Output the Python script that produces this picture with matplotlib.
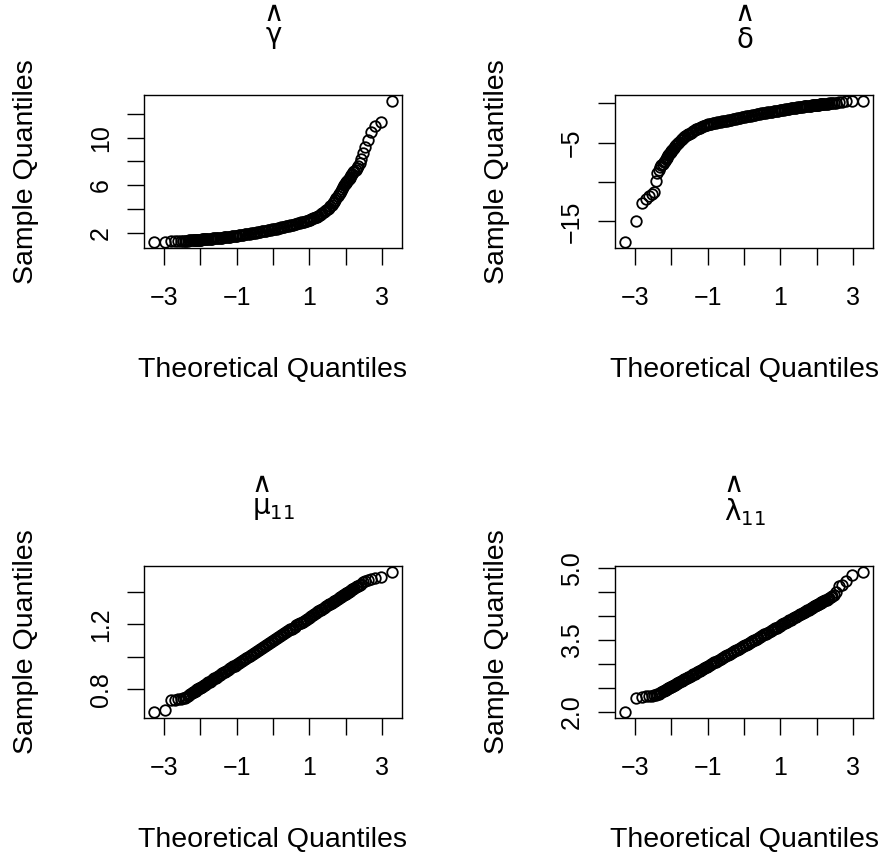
import matplotlib
matplotlib.use('Agg')
import matplotlib.pyplot as plt
from statistics import NormalDist

# ---------------- data ----------------
N_SAMPLE = 1000  # sample size behind each QQ plot (ranks refer to it)
ranks = [1, 2, 3, 4, 5, 6, 7, 8, 9, 10, 11, 12, 13, 14, 15, 16, 17, 18, 19, 20,
         21, 22, 23, 24, 25, 27, 29, 31, 33, 35, 38, 41, 44, 47, 50, 54, 58, 62,
         66, 71, 76, 81, 87, 93, 99, 106, 113, 120, 128, 136, 145, 154, 164, 174,
         185, 196, 208, 220, 233, 246, 260, 274, 288, 303, 318, 333, 348, 364, 380,
         396, 412, 428, 444, 460, 476, 492,
         509, 525, 541, 557, 573, 589, 605, 621, 637, 653, 668, 683, 698, 713, 727,
         741, 755, 768, 781, 793, 805, 816, 827, 837, 847, 856, 865, 873, 881, 888,
         895, 902, 908, 914, 920, 925, 930, 935, 939, 943, 947, 951, 954, 957, 960,
         963, 966, 968, 970, 972, 974, 976, 977, 978, 979, 980, 981, 982, 983, 984,
         985, 986, 987, 988, 989, 990, 991, 992, 993, 994, 995, 996, 997, 998, 999,
         1000]

gamma_hat = [1.22, 1.28, 1.30, 1.31, 1.32, 1.33, 1.34, 1.35, 1.36, 1.37, 1.375, 1.38,
             1.39, 1.395, 1.40, 1.41, 1.415, 1.42, 1.43, 1.435, 1.44, 1.445, 1.45,
             1.455, 1.46, 1.47, 1.475, 1.485, 1.49, 1.50, 1.51, 1.52, 1.53, 1.54,
             1.55, 1.56, 1.57, 1.58, 1.59, 1.60, 1.61, 1.625, 1.64, 1.65, 1.665,
             1.68, 1.69, 1.705, 1.72, 1.74, 1.755, 1.77, 1.79, 1.805, 1.825, 1.845,
             1.865, 1.885, 1.905, 1.925, 1.95, 1.97, 1.99, 2.01, 2.035, 2.06, 2.08,
             2.105, 2.13, 2.155, 2.18, 2.205, 2.23, 2.255, 2.28, 2.30,
             2.325, 2.35, 2.38, 2.41, 2.44, 2.47, 2.50, 2.53, 2.555, 2.585, 2.615,
             2.645, 2.675, 2.71, 2.745, 2.78, 2.82, 2.855, 2.89, 2.925, 2.96, 3.00,
             3.03, 3.065, 3.11, 3.165, 3.22, 3.275, 3.33, 3.385, 3.455, 3.53, 3.60,
             3.68, 3.755, 3.85, 3.95, 4.05, 4.14, 4.235, 4.35, 4.51, 4.64, 4.78,
             4.92, 5.07, 5.25, 5.38, 5.52, 5.67, 5.83, 6.00, 6.08, 6.17, 6.26, 6.35,
             6.44, 6.54, 6.64, 6.74, 6.86, 6.97, 7.08, 7.18, 7.30, 7.42, 7.58, 7.85,
             8.20, 8.70, 9.20, 9.80, 10.5, 11.0, 11.3, 13.1]

delta_hat = [-17.65, -14.9, -12.6, -12.2, -11.8, -11.5, -11.2, -9.8, -8.9, -8.4,
             -8.12, -7.88, -7.66, -7.46, -7.27, -7.09, -6.92, -6.75, -6.6, -6.45,
             -6.3, -6.17, -6.04, -5.93, -5.83, -5.64, -5.47, -5.31, -5.18, -5.04,
             -4.86, -4.70, -4.55, -4.41, -4.29, -4.14, -4.01, -3.92, -3.83, -3.72,
             -3.60, -3.49, -3.39, -3.31, -3.23, -3.15, -3.07, -3.00, -2.93, -2.86,
             -2.80, -2.73, -2.67, -2.62, -2.57, -2.53, -2.49, -2.45, -2.41, -2.37,
             -2.33, -2.29, -2.26, -2.22, -2.18, -2.14, -2.10, -2.06, -2.02, -1.98,
             -1.94, -1.90, -1.86, -1.82, -1.78, -1.74,
             -1.70, -1.66, -1.62, -1.585, -1.545, -1.51, -1.47, -1.43, -1.39, -1.35,
             -1.315, -1.28, -1.245, -1.21, -1.18, -1.145, -1.11, -1.075, -1.04,
             -1.01, -0.98, -0.945, -0.915, -0.885, -0.855, -0.825, -0.795, -0.765,
             -0.735, -0.70, -0.67, -0.64, -0.61, -0.58, -0.55, -0.525, -0.50,
             -0.475, -0.455, -0.43, -0.405, -0.38, -0.365, -0.345, -0.325, -0.305,
             -0.28, -0.265, -0.25, -0.235, -0.215, -0.195, -0.185, -0.175, -0.165,
             -0.155, -0.14, -0.13, -0.12, -0.105, -0.09, -0.08, -0.065, -0.05, -0.03,
             -0.015, 0.005, 0.025, 0.045, 0.07, 0.10, 0.135, 0.18, 0.25, 0.32, 0.35]

mu11_hat = [0.656, 0.673, 0.730, 0.733, 0.736, 0.739, 0.742, 0.747, 0.754, 0.760,
            0.765, 0.770, 0.775, 0.779, 0.783, 0.787, 0.791, 0.794, 0.798, 0.801,
            0.804, 0.807, 0.809, 0.812, 0.815, 0.819, 0.824, 0.828, 0.832, 0.836,
            0.842, 0.847, 0.852, 0.857, 0.861, 0.866, 0.871, 0.876, 0.881, 0.887,
            0.892, 0.897, 0.903, 0.908, 0.913, 0.919, 0.924, 0.929, 0.935, 0.940,
            0.946, 0.952, 0.958, 0.964, 0.970, 0.976, 0.982, 0.988, 0.994, 1.000,
            1.006, 1.013, 1.019, 1.025, 1.031, 1.037, 1.043, 1.049, 1.055, 1.062,
            1.068, 1.073, 1.079, 1.085, 1.091, 1.097,
            1.103, 1.109, 1.115, 1.121, 1.127, 1.132, 1.138, 1.145, 1.151, 1.157,
            1.163, 1.169, 1.175, 1.181, 1.187, 1.194, 1.200, 1.206, 1.212, 1.218,
            1.224, 1.230, 1.236, 1.242, 1.248, 1.254, 1.260, 1.265, 1.271, 1.276,
            1.281, 1.287, 1.292, 1.297, 1.303, 1.308, 1.313, 1.319, 1.324, 1.329,
            1.334, 1.339, 1.343, 1.348, 1.353, 1.358, 1.364, 1.368, 1.372, 1.376,
            1.381, 1.385, 1.388, 1.391, 1.393, 1.396, 1.399, 1.402, 1.406, 1.409,
            1.413, 1.417, 1.421, 1.425, 1.430, 1.435, 1.440, 1.446, 1.452, 1.460,
            1.468, 1.476, 1.482, 1.488, 1.492, 1.527]

lambda11_hat = [1.99, 2.30, 2.32, 2.33, 2.335, 2.34, 2.345, 2.35, 2.365, 2.38,
                2.399, 2.414, 2.428, 2.440, 2.452, 2.463, 2.474, 2.484, 2.493, 2.503,
                2.512, 2.520, 2.528, 2.536, 2.543, 2.558, 2.571, 2.584, 2.595, 2.607,
                2.623, 2.638, 2.653, 2.666, 2.679, 2.695, 2.710, 2.725, 2.738, 2.754,
                2.770, 2.784, 2.801, 2.816, 2.832, 2.848, 2.864, 2.879, 2.896, 2.912,
                2.930, 2.946, 2.964, 2.981, 2.998, 3.015, 3.034, 3.051, 3.069, 3.088,
                3.106, 3.124, 3.142, 3.160, 3.179, 3.196, 3.213, 3.232, 3.250, 3.267,
                3.285, 3.302, 3.320, 3.337, 3.354, 3.371,
                3.389, 3.406, 3.423, 3.440, 3.458, 3.475, 3.493, 3.510, 3.528, 3.547,
                3.564, 3.581, 3.600, 3.618, 3.636, 3.654, 3.672, 3.691, 3.709, 3.726,
                3.745, 3.762, 3.779, 3.796, 3.814, 3.830, 3.848, 3.864, 3.881, 3.896,
                3.912, 3.928, 3.944, 3.959, 3.976, 3.990, 4.006, 4.022, 4.035, 4.050,
                4.065, 4.081, 4.094, 4.107, 4.122, 4.137, 4.153, 4.165, 4.176, 4.189,
                4.202, 4.217, 4.224, 4.232, 4.240, 4.248, 4.257, 4.267, 4.276, 4.286,
                4.297, 4.308, 4.320, 4.332, 4.346, 4.361, 4.377, 4.394, 4.415, 4.440,
                4.500, 4.620, 4.660, 4.740, 4.860, 4.930]

# hatted greek letters: hat stacked at full size above the letter
titles = [r'$\genfrac{}{}{0}{0}{\wedge}{\mathrm{\gamma}}$',
          r'$\genfrac{}{}{0}{0}{\wedge}{\mathrm{\delta}}$',
          r'$\genfrac{}{}{0}{0}{\wedge\hspace{0.9}}{\mathrm{\mu}_{11}}$',
          r'$\genfrac{}{}{0}{0}{\wedge\hspace{0.9}}{\mathrm{\lambda}_{11}}$']
# simpler form, used only if the stacked form cannot be typeset
fallback_titles = [r'$\overset{\wedge}{\mathrm{\gamma}}$',
                   r'$\overset{\wedge}{\mathrm{\delta}}$',
                   r'${\overset{\wedge}{\mathrm{\mu}}}_{11}$',
                   r'${\overset{\wedge}{\mathrm{\lambda}}}_{11}$']
x_ticks = [-3, -2, -1, 0, 1, 2, 3]
x_tick_labels = ['\u22123', '', '\u22121', '', '1', '', '3']
y_ticks = [[2, 4, 6, 8, 10, 12],
           [0, -5, -10, -15],
           [0.8, 1.0, 1.2, 1.4],
           [2.0, 2.5, 3.0, 3.5, 4.0, 4.5, 5.0]]
y_tick_labels = [['2', '', '6', '', '10', ''],
                 ['', '\u22125', '', '\u221215'],
                 ['0.8', '', '1.2', ''],
                 ['2.0', '', '', '3.5', '', '', '5.0']]
x_label = 'Theoretical Quantiles'
y_label = 'Sample Quantiles'

# ---------------- style ----------------
plt.rcParams['font.family'] = ['Liberation Sans', 'DejaVu Sans']

W, H = 885, 859
fig = plt.figure(figsize=(W / 100, H / 100), dpi=100)

# panel boxes in pixels: left, top, right, bottom
boxes = [(144, 95, 402, 248), (615, 95, 873, 248),
         (144, 566, 402, 718), (615, 566, 873, 718)]
series = [gamma_hat, delta_hat, mu11_hat, lambda11_hat]

nd = NormalDist()
theo = [nd.inv_cdf((r - 0.5) / N_SAMPLE) for r in ranks]

for i, (box, vals) in enumerate(zip(boxes, series)):
    l, t, r, b = box
    ax = fig.add_axes([l / W, 1 - b / H, (r - l) / W, (b - t) / H])
    ax.plot(theo, vals, ls='none', marker='o', ms=7.6, mfc='none',
            mec='black', mew=1.3)
    xlo, xhi = min(theo), max(theo)
    ylo, yhi = min(vals), max(vals)
    ax.set_xlim(xlo - 0.04 * (xhi - xlo), xhi + 0.04 * (xhi - xlo))
    ax.set_ylim(ylo - 0.04 * (yhi - ylo), yhi + 0.04 * (yhi - ylo))
    ax.set_xticks(x_ticks)
    ax.set_xticklabels(x_tick_labels)
    ax.set_yticks(y_ticks[i])
    ax.set_yticklabels(y_tick_labels[i], rotation=90, va='center')
    ax.tick_params(axis='both', direction='out', length=12.5, width=1.0,
                   labelsize=18, color='black')
    ax.tick_params(axis='x', pad=15)
    ax.tick_params(axis='y', pad=10)
    for s in ax.spines.values():
        s.set_linewidth(1.0)

    cx = (l + r) / 2
    cy = (t + b) / 2
    fig.text(cx / W, 1 - (b + 128.7) / H, x_label, ha='center', va='baseline',
             fontsize=20.5)
    fig.text((l - 118) / W, 1 - cy / H, y_label, ha='center', va='center',
             rotation=90, fontsize=20.5)

    # main title: hatted greek letter
    ttl = None
    try:
        ttl = fig.text(cx / W, 1 - (t - 93) / H, titles[i], ha='center',
                       va='top', fontsize=20, math_fontfamily='dejavusans')
        fig.canvas.draw()
    except Exception:
        if ttl is not None:
            ttl.remove()
        fig.text(cx / W, 1 - (t - 54) / H, fallback_titles[i], ha='center',
                 va='baseline', fontsize=20, math_fontfamily='dejavusans')

fig.savefig('out.png', dpi=100)
